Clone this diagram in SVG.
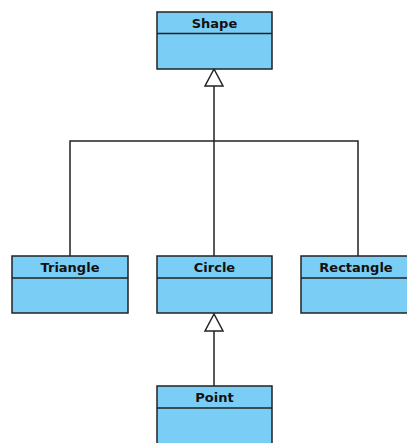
<svg xmlns="http://www.w3.org/2000/svg" width="407" height="443" viewBox="0 0 407 443">
<style>
.box{fill:#7acdf4;stroke:#222;stroke-width:1.5}
.div{stroke:#222;stroke-width:1.5}
.lbl{font-family:"DejaVu Sans",sans-serif;font-weight:bold;font-size:13px;fill:#111;text-anchor:middle}
.con{fill:none;stroke:#222;stroke-width:1.5}
.tri{fill:#fff;stroke:#222;stroke-width:1.5}
</style>
<rect width="407" height="443" fill="#fff"/>
<g id="connectors">
<polyline class="con" points="70,256 70,141 358,141 358,256"/>
<line class="con" x1="214" y1="86" x2="214" y2="256"/>
<polygon class="tri" points="214,69 205,86 223,86"/>
<line class="con" x1="214" y1="331" x2="214" y2="386"/>
<polygon class="tri" points="214,314 205,331 223,331"/>
</g>
<g id="Shape">
<rect class="box" x="157" y="12" width="115" height="57"/>
<line class="div" x1="157" y1="33.5" x2="272" y2="33.5"/>
<text class="lbl" x="214.5" y="27.5">Shape</text>
</g>
<g id="Triangle">
<rect class="box" x="12" y="256" width="116" height="57"/>
<line class="div" x1="12" y1="278" x2="128" y2="278"/>
<text class="lbl" x="70" y="272">Triangle</text>
</g>
<g id="Circle">
<rect class="box" x="157" y="256" width="115" height="57"/>
<line class="div" x1="157" y1="278" x2="272" y2="278"/>
<text class="lbl" x="214.5" y="272">Circle</text>
</g>
<g id="Rectangle">
<rect class="box" x="301" y="256" width="115" height="57"/>
<line class="div" x1="301" y1="278" x2="416" y2="278"/>
<text class="lbl" x="356" y="272">Rectangle</text>
</g>
<g id="Point">
<rect class="box" x="157" y="386" width="115" height="70"/>
<line class="div" x1="157" y1="408" x2="272" y2="408"/>
<text class="lbl" x="214.5" y="402">Point</text>
</g>
</svg>
